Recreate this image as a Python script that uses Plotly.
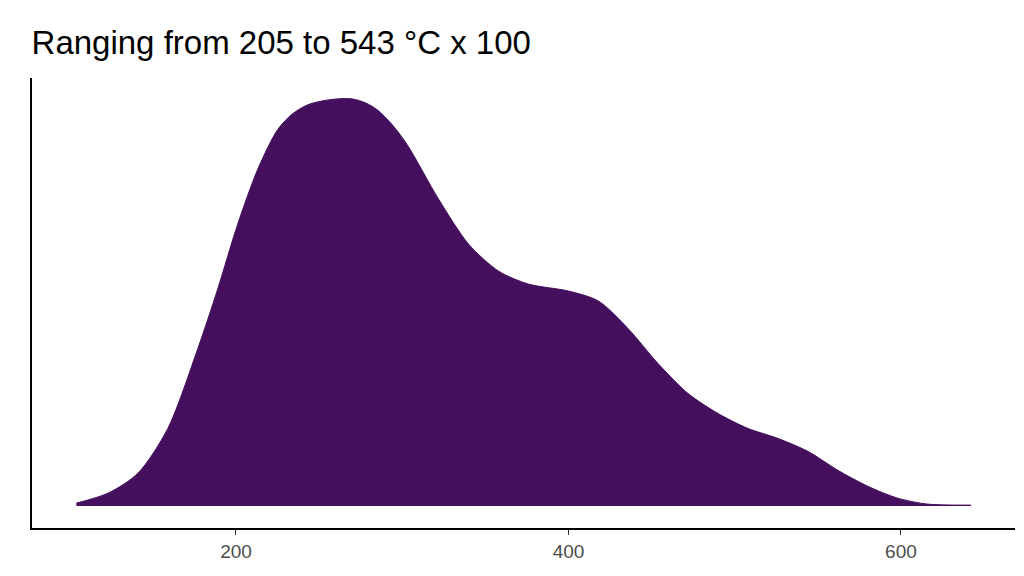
import plotly.graph_objects as go

temp = [104, 123, 141, 159, 177, 189, 201, 213, 225, 234, 243, 252, 261, 270, 278, 285, 294, 303, 322, 340, 358, 376, 400,
        418, 436, 454, 472, 490, 508, 526, 544, 562, 580, 598, 616, 642]
density = [3, 13, 33, 78, 158, 218, 283, 338, 378, 394, 403, 407, 409, 409, 405, 398, 383, 363, 308, 263, 236, 223, 216,
           206, 178, 143, 113, 93, 78, 68, 55, 36, 20, 8, 2, 1]
tick_vals = [200, 400, 600]

fig = go.Figure(go.Scatter(x=temp, y=density, mode="lines",
                           line=dict(shape="spline", smoothing=0.8, color="#440F5C", width=1),
                           fill="tozeroy", fillcolor="#440F5C", hoverinfo="skip"))
fig.update_layout(
    width=1024, height=576, plot_bgcolor="white", paper_bgcolor="white",
    margin=dict(l=24, r=17, t=70, b=56, autoexpand=False), showlegend=False,
    title=dict(text="Ranging from 205 to 543 °C x 100", x=0.023, xanchor="left", y=0.94, yanchor="middle",
               font=dict(family="Liberation Sans, Arial", size=33, color="black")),
    xaxis=dict(range=[77.3, 668.6], tickvals=tick_vals, showgrid=False, zeroline=False, showline=True,
               linecolor="black", linewidth=2, ticks="outside", ticklen=5, tickcolor="#333", automargin=False,
               tickfont=dict(family="Liberation Sans, Arial", size=19, color="#4d4d4d")),
    yaxis=dict(range=[-22, 430], showticklabels=False, showgrid=False, zeroline=False, showline=True,
               linecolor="black", linewidth=2, ticks="", automargin=False),
)
fig.write_html("out.html")
